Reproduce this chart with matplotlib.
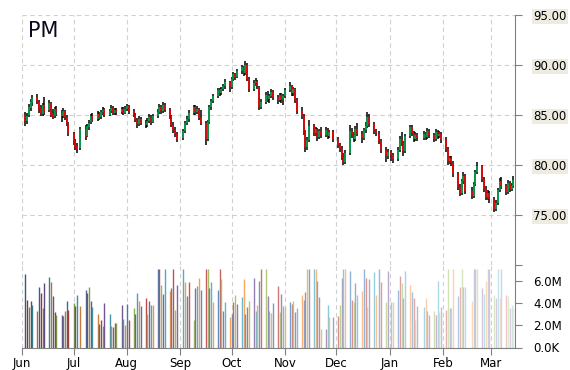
import numpy as np
import pandas as pd
import matplotlib
matplotlib.use("Agg")
import matplotlib.pyplot as plt
import matplotlib.dates as mdates
from matplotlib.colors import to_rgb

# trading days Jun 3 2013 - Mar 14 2014 (US market holidays removed)
holidays = ["2013-07-04", "2013-09-02", "2013-11-28", "2013-12-25",
            "2014-01-01", "2014-01-20", "2014-02-17"]
dates = pd.bdate_range("2013-06-03", "2014-03-14")
dates = dates[~dates.isin(pd.to_datetime(holidays))]

opens = [
    85.0, 84.4, 85.0, 85.7, 86.2, 86.8, 86.3, 85.7, 85.1, 86.0,
    85.5, 86.2, 85.1, 84.9, 85.5, 85.2, 84.9, 85.4, 84.8, 84.2,
    83.1, 82.3, 81.9, 81.7, 83.6, 82.9, 83.8, 84.3, 84.9, 84.6,
    85.1, 84.8, 85.3, 85.6, 85.0, 85.4, 85.7, 85.2, 85.5, 85.3,
    85.6, 85.2,
    85.6, 85.9, 85.4, 85.0, 84.5, 84.1, 84.6, 84.2, 84.0, 84.4,
    84.8, 84.3, 84.9, 85.3, 85.8, 85.4, 86.0, 85.5, 84.9, 84.0,
    83.5, 83.1,
    82.7, 83.4, 84.2, 84.6, 85.2, 85.8, 85.3, 85.6, 84.7, 84.2,
    82.6, 84.3, 85.8, 86.4, 86.9, 87.5, 87.2, 87.6, 87.9, 88.3,
    87.8, 88.6, 89.1, 88.8, 89.4, 89.8, 89.2, 90.0, 88.6, 87.6,
    88.2, 88.4, 87.8, 85.8, 86.3, 87.0, 86.6, 86.9, 87.3, 86.8,
    86.5, 87.0, 86.6,
    86.9, 87.5, 87.9, 87.2, 87.6, 86.5, 85.4, 84.9, 83.3, 81.8,
    82.5, 83.9, 83.2, 83.6, 82.8, 83.4, 83.0, 83.5, 82.9, 83.3,
    82.6, 82.0, 81.6, 80.8, 80.3, 81.2, 83.4, 83.0, 82.6, 83.6,
    83.1, 82.7, 83.5, 83.9, 84.8, 84.1, 83.4, 83.2, 82.4, 81.5,
    80.9,
    81.3, 81.0, 80.6, 81.5, 82.6, 82.2, 81.4, 82.9, 83.8, 83.2,
    82.6, 83.0, 82.7, 83.1, 82.8, 83.4, 83.0, 82.6, 83.3, 82.9,
    83.1,
    82.5, 81.6, 80.4, 80.7, 80.2, 79.1, 77.8, 77.2, 78.4, 78.9,
    77.4, 76.9, 78.1, 79.3, 79.9, 78.6, 77.6, 76.8, 77.2,
    76.6, 75.6, 76.2, 77.5, 78.4, 77.9, 77.3, 78.2, 77.6, 77.9,
]
highs = [
    85.3, 85.2, 86.1, 86.6, 87.0, 87.1, 86.5, 86.0, 86.2, 86.8,
    86.5, 86.3, 85.6, 85.8, 85.9, 85.5, 85.7, 85.5, 85.0, 84.3,
    83.3, 82.6, 82.2, 83.8, 84.0, 84.1, 84.5, 85.1, 85.2, 85.4,
    85.3, 85.5, 85.8, 85.7, 85.6, 86.0, 85.9, 85.7, 85.7, 85.8,
    85.8, 85.9,
    86.1, 86.0, 85.6, 85.2, 84.7, 84.9, 84.8, 84.5, 84.7, 85.1,
    85.0, 85.1, 85.6, 86.1, 86.0, 86.3, 86.2, 85.7, 85.0, 84.3,
    83.8, 83.3,
    83.6, 84.4, 84.9, 85.5, 86.0, 86.0, 85.9, 85.7, 85.5, 84.4,
    84.5, 86.0, 86.6, 87.1, 87.7, 87.7, 87.8, 88.1, 88.6, 88.4,
    88.8, 89.3, 89.2, 89.6, 90.0, 89.9, 90.4, 90.2, 88.8, 88.5,
    88.7, 88.5, 87.9, 86.6, 87.3, 87.4, 87.1, 87.6, 87.5, 87.0,
    87.2, 87.2, 87.1,
    87.7, 88.3, 88.0, 87.8, 87.7, 86.7, 85.8, 85.1, 83.5, 82.8,
    84.5, 84.1, 83.8, 83.7, 83.6, 83.8, 83.8, 83.7, 83.5, 83.5,
    82.8, 82.2, 81.9, 81.2, 81.5, 84.0, 83.7, 83.3, 83.9, 84.2,
    83.4, 83.7, 84.3, 85.3, 85.1, 84.3, 83.6, 83.4, 82.6, 81.8,
    81.6,
    81.5, 81.2, 81.8, 82.9, 83.3, 82.4, 83.1, 84.0, 84.0, 83.4,
    83.3, 83.2, 83.4, 83.3, 83.7, 83.6, 83.2, 83.6, 83.5, 83.4,
    83.3,
    82.8, 81.8, 80.9, 80.9, 80.4, 79.3, 78.1, 78.6, 79.3, 79.1,
    77.8, 78.3, 79.5, 80.3, 80.0, 78.8, 77.9, 77.5, 77.4,
    76.8, 76.5, 77.7, 78.7, 78.8, 78.1, 78.5, 78.4, 78.2, 78.9,
]
lows = [
    83.9, 84.1, 84.8, 85.4, 85.9, 86.1, 85.2, 84.9, 84.9, 85.0,
    85.3, 84.8, 84.6, 84.7, 84.9, 84.3, 84.7, 84.5, 83.9, 82.9,
    82.0, 81.5, 81.2, 81.5, 82.5, 82.8, 83.5, 84.1, 84.3, 84.4,
    84.5, 84.6, 85.0, 84.8, 84.9, 85.2, 85.0, 85.0, 85.0, 85.1,
    85.0, 85.1,
    85.4, 85.1, 84.8, 84.3, 83.7, 83.9, 84.0, 83.7, 83.8, 84.2,
    84.0, 84.2, 84.7, 85.1, 85.1, 85.2, 85.3, 84.6, 83.8, 83.2,
    82.8, 82.3,
    82.5, 83.2, 84.0, 84.3, 85.0, 85.0, 85.1, 84.5, 84.0, 82.0,
    82.4, 84.1, 85.5, 86.2, 86.7, 86.9, 87.0, 87.4, 87.6, 87.3,
    87.6, 88.4, 88.5, 88.7, 89.1, 88.9, 89.0, 88.4, 87.3, 87.4,
    87.9, 87.6, 85.5, 85.6, 86.1, 86.3, 86.2, 86.7, 86.5, 86.1,
    86.3, 86.2, 86.0,
    86.7, 87.3, 86.9, 86.9, 86.2, 85.1, 84.6, 83.0, 81.3, 81.5,
    82.3, 82.9, 82.9, 82.4, 82.6, 82.7, 82.8, 82.6, 82.7, 82.3,
    81.7, 81.3, 80.5, 80.0, 80.1, 81.0, 82.7, 82.3, 82.4, 82.9,
    82.2, 82.5, 83.2, 83.7, 83.8, 83.1, 82.9, 82.1, 81.2, 80.3,
    80.6,
    80.4, 80.2, 80.4, 81.3, 81.9, 80.9, 81.2, 82.7, 82.9, 82.3,
    82.4, 82.4, 82.5, 82.5, 82.6, 82.7, 82.3, 82.4, 82.6, 82.7,
    82.2,
    81.3, 80.0, 80.1, 79.9, 78.8, 77.5, 76.9, 77.0, 78.1, 77.1,
    76.6, 76.7, 77.9, 79.1, 78.3, 77.3, 76.5, 76.5, 76.2,
    75.3, 75.4, 76.0, 77.3, 77.6, 77.0, 77.1, 77.3, 77.4, 77.7,
]
closes = [
    84.4, 84.9, 85.8, 86.3, 86.7, 86.4, 85.6, 85.2, 86.0, 85.4,
    86.2, 85.0, 84.8, 85.6, 85.3, 84.9, 85.4, 84.8, 84.2, 83.2,
    82.3, 81.8, 81.6, 83.6, 82.8, 83.9, 84.2, 84.9, 84.6, 85.1,
    84.7, 85.3, 85.5, 85.0, 85.4, 85.7, 85.2, 85.5, 85.3, 85.6,
    85.2, 85.6,
    85.9, 85.4, 85.0, 84.5, 84.1, 84.6, 84.2, 84.0, 84.4, 84.8,
    84.3, 84.9, 85.3, 85.8, 85.4, 86.0, 85.5, 84.9, 84.0, 83.5,
    83.1, 82.6,
    83.4, 84.2, 84.6, 85.2, 85.8, 85.3, 85.6, 84.7, 84.2, 82.6,
    84.3, 85.8, 86.4, 86.9, 87.5, 87.2, 87.6, 87.9, 88.3, 87.8,
    88.6, 89.1, 88.8, 89.4, 89.8, 89.2, 90.0, 88.6, 87.6, 88.2,
    88.4, 87.9, 85.8, 86.3, 87.0, 86.6, 86.9, 87.3, 86.8, 86.5,
    87.0, 86.6, 86.9,
    87.5, 87.9, 87.2, 87.6, 86.5, 85.4, 84.9, 83.3, 81.8, 82.5,
    83.9, 83.2, 83.6, 82.8, 83.4, 83.0, 83.5, 82.9, 83.3, 82.6,
    82.0, 81.6, 80.8, 80.3, 81.2, 83.4, 83.0, 82.6, 83.6, 83.1,
    82.7, 83.5, 83.9, 84.8, 84.1, 83.4, 83.2, 82.4, 81.5, 80.9,
    81.3,
    81.0, 80.6, 81.5, 82.6, 82.2, 81.4, 82.9, 83.8, 83.2, 82.6,
    83.0, 82.7, 83.1, 82.8, 83.4, 83.0, 82.6, 83.3, 82.9, 83.1,
    82.5,
    81.6, 80.4, 80.7, 80.2, 79.1, 77.8, 77.2, 78.4, 78.9, 77.4,
    76.9, 78.1, 79.3, 79.9, 78.6, 77.6, 76.8, 77.2, 76.6,
    75.6, 76.2, 77.5, 78.4, 77.9, 77.3, 78.2, 77.6, 77.9, 78.5,
]
# volume in millions
volumes = [
    6.6, 4.3, 3.6, 4.2, 3.8, 3.3, 5.4, 4.9, 3.5, 5.8,
    6.3, 5.9, 4.6, 3.2, 2.9, 2.9, 2.8, 3.3, 4.2, 3.4,
    4.0, 3.7, 4.7, 3.7, 5.2, 4.9, 5.4, 4.2, 3.6, 3.0,
    2.1, 2.5, 1.9, 4.0, 3.0, 1.9, 1.8, 2.2, 2.2, 3.8,
    2.6, 2.0,
    3.9, 2.5, 3.5, 3.0, 4.9, 4.2, 3.7, 4.4, 3.0, 4.2,
    3.8, 3.8, 7.0, 7.0, 5.6, 4.8, 7.0, 5.1, 5.3, 7.0,
    3.4, 5.6,
    7.0, 5.9, 4.6, 5.9, 2.5, 5.3, 5.5, 6.2, 5.2, 7.0,
    7.0, 5.3, 5.9, 4.1, 5.2, 7.0, 6.1, 3.3, 4.1, 2.7,
    3.0, 4.1, 4.7, 3.9, 4.5, 6.1, 3.0, 3.6, 4.2, 6.2,
    3.3, 3.8, 6.0, 7.0, 7.0, 4.6, 3.3, 3.1, 4.0, 5.5,
    3.2, 4.8, 3.7,
    3.6, 4.1, 3.9, 4.2, 3.2, 3.5, 4.7, 4.3, 5.0, 7.0,
    7.0, 7.0, 7.0, 6.0, 4.5, 1.7, 1.7, 3.8, 2.7, 2.7,
    2.8, 3.8, 6.2, 7.0, 7.0, 6.9, 4.3, 4.1, 5.8, 4.7,
    5.1, 7.0, 6.2, 3.6, 6.1, 6.8, 4.7, 7.0, 5.9, 4.1,
    6.9,
    4.1, 4.1, 5.2, 6.4, 5.8, 4.4, 6.9, 5.6, 5.0, 4.4,
    2.5, 3.7, 3.6, 4.4, 3.3, 2.9, 3.3, 2.9, 6.0, 3.2,
    3.6,
    3.4, 7.0, 3.5, 3.5, 7.0, 4.6, 5.4, 7.0, 5.4, 5.4,
    4.2, 7.0, 7.0, 7.0, 5.3, 4.8, 6.0, 7.0, 7.0,
    4.7, 4.4, 7.0, 4.4, 7.0, 4.7, 4.6, 3.5, 3.8, 3.5,
]
assert len(dates) == len(opens) == len(highs) == len(lows) == len(closes) == len(volumes)

o = np.array(opens)
h = np.array(highs)
l = np.array(lows)
c = np.array(closes)

grid_kw = dict(color="#d0d0d0", linestyle=(0, (4, 3)), linewidth=0.8)

fig = plt.figure(figsize=(5.7, 3.7), dpi=100)
ax = fig.add_axes([22 / 570, 1 - 265 / 370, 493 / 570, 250 / 370])
axv = fig.add_axes([22 / 570, 1 - 347.5 / 370, 493 / 570, 82.5 / 370], sharex=ax)

# candles: black wick, coloured body
ax.vlines(dates, l, h, color="black", linewidth=1.1, zorder=3)
body_col = np.where(c >= o, "#00b050", "#ff0000")
ax.vlines(dates, np.minimum(o, c), np.maximum(o, c), colors=body_col,
          linewidth=1.1, zorder=4)

# volume bars: palette cycle, darker on the left, paler on the right
palette = ["#4f81bd", "#c0504d", "#9bbb59", "#8064a2", "#4bacc6", "#f79646"]
n = len(volumes)
vcols = []
for i in range(n):
    base = np.array(to_rgb(palette[i % len(palette)]))
    f = -0.3 + 1.0 * i / (n - 1)
    if f < 0:
        col = base * (1 + f)
    else:
        col = base + (1 - base) * f
    vcols.append(tuple(col))
axv.vlines(dates, 0, volumes, colors=vcols, linewidth=1.0)

ax.set_ylim(70, 95)
axv.set_ylim(0, 7.4)
ax.set_xlim(pd.Timestamp("2013-06-01"), pd.Timestamp("2014-03-15"))

for a in (ax, axv):
    a.set_facecolor("none")
    a.grid(True, axis="x", **grid_kw)
    a.spines["left"].set_visible(False)
    a.spines["top"].set_visible(False)
    a.spines["right"].set_color("#808080")
    a.spines["bottom"].set_visible(False)
    a.yaxis.tick_right()
    a.tick_params(axis="y", direction="out", length=5, color="#808080",
                  labelsize=8.5, pad=8)
ax.grid(True, axis="y", **grid_kw)
axv.spines["bottom"].set_visible(True)
axv.spines["bottom"].set_color("#808080")

ax.set_yticks([70, 75, 80, 85, 90, 95])
ax.set_yticklabels(["", "75.00", "80.00", "85.00", "90.00", "95.00"])
for t in ax.get_yticklabels():
    t.set_bbox(dict(facecolor="#eeece1", edgecolor="none", pad=1))
ax.tick_params(axis="x", which="both", bottom=False, labelbottom=False)

axv.set_yticks([0, 2, 4, 6])
axv.set_yticklabels(["0.0K", "2.0M", "4.0M", "6.0M"])
axv.xaxis.set_major_locator(mdates.MonthLocator())
axv.xaxis.set_major_formatter(mdates.DateFormatter("%b"))
axv.tick_params(axis="x", direction="out", length=5, color="#808080",
                labelsize=8.5, pad=2)
for t in axv.get_xticklabels():
    t.set_horizontalalignment("center")

ax.text(0.012, 0.975, "PM", transform=ax.transAxes, fontsize=15,
        color="#0a0a1e", va="top", ha="left")

fig.savefig("out.png", dpi=100)
